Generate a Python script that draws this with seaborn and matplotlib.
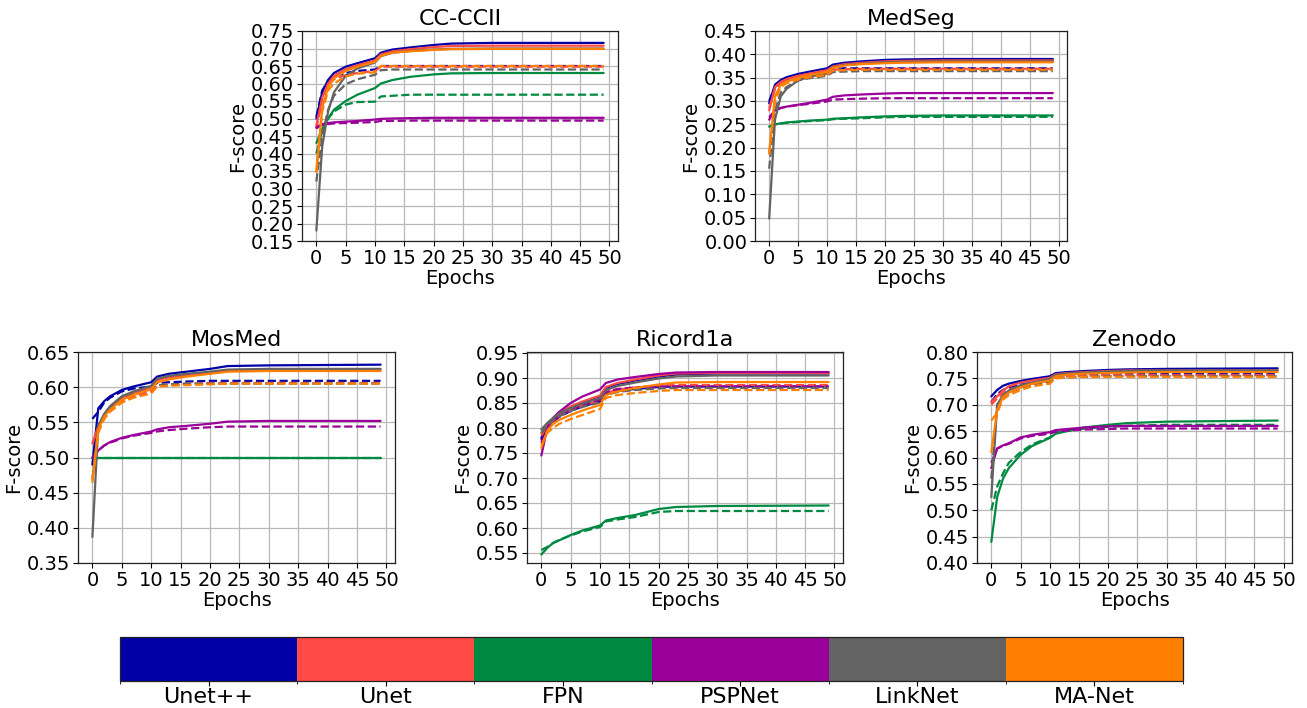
import matplotlib
matplotlib.use("Agg")
import matplotlib.pyplot as plt
import seaborn as sns
import numpy as np
from matplotlib.colors import ListedColormap, BoundaryNorm
from matplotlib.cm import ScalarMappable

# ---------------- data ----------------
EPOCHS = [0, 1, 2, 3, 5, 7, 10, 11, 13, 16, 20, 23, 30, 49]
MODELS = ["Unet++", "Unet", "FPN", "PSPNet", "LinkNet", "MA-Net"]
COLORS = ["#0000A7", "#FF4A46", "#008941", "#9A0099", "#636363", "#FF8000"]
DATASETS = ["CC-CCII", "MedSeg", "MosMed", "Ricord1a", "Zenodo"]

# CC-CCII
cc_unetpp = [0.500, 0.575, 0.610, 0.630, 0.648, 0.658, 0.672, 0.688, 0.697, 0.703, 0.710, 0.714, 0.716, 0.716]
cc_unetpp_val = [0.505, 0.580, 0.608, 0.620, 0.630, 0.636, 0.640, 0.650, 0.650, 0.650, 0.650, 0.650, 0.650, 0.650]
cc_unet = [0.480, 0.560, 0.600, 0.622, 0.641, 0.652, 0.666, 0.683, 0.692, 0.698, 0.704, 0.707, 0.708, 0.708]
cc_unet_val = [0.470, 0.555, 0.595, 0.612, 0.624, 0.630, 0.636, 0.648, 0.648, 0.648, 0.648, 0.648, 0.648, 0.648]
cc_fpn = [0.430, 0.470, 0.500, 0.525, 0.550, 0.568, 0.587, 0.600, 0.610, 0.619, 0.626, 0.629, 0.630, 0.630]
cc_fpn_val = [0.400, 0.465, 0.500, 0.520, 0.540, 0.547, 0.548, 0.563, 0.565, 0.568, 0.568, 0.568, 0.568, 0.568]
cc_psp = [0.475, 0.484, 0.487, 0.489, 0.491, 0.493, 0.497, 0.499, 0.500, 0.501, 0.502, 0.502, 0.502, 0.502]
cc_psp_val = [0.472, 0.482, 0.484, 0.486, 0.487, 0.488, 0.490, 0.493, 0.493, 0.494, 0.494, 0.494, 0.494, 0.494]
cc_link = [0.180, 0.420, 0.520, 0.575, 0.622, 0.643, 0.660, 0.678, 0.688, 0.693, 0.697, 0.699, 0.700, 0.700]
cc_link_val = [0.320, 0.450, 0.525, 0.565, 0.598, 0.612, 0.625, 0.638, 0.640, 0.640, 0.640, 0.640, 0.640, 0.640]
cc_ma = [0.350, 0.530, 0.590, 0.615, 0.636, 0.648, 0.662, 0.679, 0.688, 0.692, 0.696, 0.698, 0.699, 0.699]
cc_ma_val = [0.345, 0.520, 0.580, 0.600, 0.620, 0.628, 0.632, 0.650, 0.650, 0.650, 0.650, 0.650, 0.650, 0.650]

# MedSeg
ms_unetpp = [0.295, 0.335, 0.345, 0.351, 0.358, 0.363, 0.370, 0.378, 0.382, 0.385, 0.388, 0.389, 0.390, 0.390]
ms_unetpp_val = [0.300, 0.330, 0.340, 0.346, 0.352, 0.357, 0.362, 0.369, 0.370, 0.370, 0.370, 0.370, 0.370, 0.370]
ms_unet = [0.280, 0.330, 0.341, 0.347, 0.354, 0.359, 0.366, 0.374, 0.379, 0.382, 0.385, 0.386, 0.387, 0.387]
ms_unet_val = [0.285, 0.325, 0.336, 0.342, 0.349, 0.354, 0.358, 0.367, 0.368, 0.369, 0.369, 0.369, 0.369, 0.369]
ms_fpn = [0.245, 0.250, 0.252, 0.254, 0.256, 0.258, 0.260, 0.262, 0.263, 0.265, 0.267, 0.268, 0.269, 0.269]
ms_fpn_val = [0.245, 0.250, 0.252, 0.253, 0.255, 0.257, 0.259, 0.261, 0.262, 0.263, 0.265, 0.266, 0.266, 0.266]
ms_psp = [0.260, 0.280, 0.285, 0.288, 0.292, 0.296, 0.303, 0.309, 0.312, 0.314, 0.316, 0.317, 0.317, 0.317]
ms_psp_val = [0.265, 0.280, 0.285, 0.288, 0.291, 0.294, 0.299, 0.303, 0.304, 0.305, 0.306, 0.306, 0.306, 0.306]
ms_link = [0.048, 0.260, 0.310, 0.326, 0.344, 0.352, 0.360, 0.372, 0.377, 0.380, 0.383, 0.384, 0.385, 0.385]
ms_link_val = [0.155, 0.280, 0.318, 0.330, 0.344, 0.349, 0.354, 0.362, 0.363, 0.364, 0.364, 0.364, 0.364, 0.364]
ms_ma = [0.190, 0.310, 0.334, 0.342, 0.350, 0.356, 0.362, 0.371, 0.376, 0.379, 0.381, 0.382, 0.383, 0.383]
ms_ma_val = [0.185, 0.300, 0.330, 0.338, 0.346, 0.351, 0.356, 0.365, 0.366, 0.367, 0.367, 0.367, 0.367, 0.367]

# MosMed
mm_unetpp = [0.490, 0.570, 0.580, 0.587, 0.596, 0.601, 0.607, 0.615, 0.619, 0.622, 0.626, 0.630, 0.631, 0.632]
mm_unetpp_val = [0.555, 0.565, 0.578, 0.585, 0.594, 0.598, 0.601, 0.606, 0.607, 0.608, 0.609, 0.609, 0.609, 0.609]
mm_unet = [0.520, 0.545, 0.560, 0.570, 0.585, 0.592, 0.600, 0.610, 0.614, 0.617, 0.621, 0.623, 0.624, 0.624]
mm_unet_val = [0.520, 0.540, 0.555, 0.567, 0.580, 0.587, 0.594, 0.602, 0.604, 0.605, 0.606, 0.606, 0.606, 0.606]
mm_fpn = [0.500, 0.500, 0.500, 0.500, 0.500, 0.500, 0.500, 0.500, 0.500, 0.500, 0.500, 0.500, 0.500, 0.500]
mm_fpn_val = [0.499, 0.499, 0.499, 0.499, 0.499, 0.499, 0.499, 0.499, 0.499, 0.499, 0.499, 0.499, 0.499, 0.499]
mm_psp = [0.500, 0.510, 0.517, 0.522, 0.528, 0.532, 0.537, 0.540, 0.543, 0.545, 0.548, 0.551, 0.552, 0.552]
mm_psp_val = [0.500, 0.510, 0.517, 0.521, 0.527, 0.531, 0.535, 0.537, 0.539, 0.541, 0.543, 0.544, 0.544, 0.544]
mm_link = [0.387, 0.545, 0.562, 0.573, 0.587, 0.594, 0.602, 0.612, 0.616, 0.619, 0.622, 0.625, 0.626, 0.626]
mm_link_val = [0.470, 0.545, 0.560, 0.570, 0.583, 0.590, 0.597, 0.603, 0.604, 0.605, 0.605, 0.605, 0.605, 0.605]
mm_ma = [0.465, 0.540, 0.558, 0.568, 0.582, 0.589, 0.597, 0.607, 0.611, 0.615, 0.619, 0.622, 0.623, 0.623]
mm_ma_val = [0.468, 0.535, 0.555, 0.565, 0.578, 0.585, 0.591, 0.601, 0.602, 0.603, 0.604, 0.605, 0.605, 0.605]

# Ricord1a
rc_unetpp = [0.780, 0.806, 0.818, 0.828, 0.841, 0.851, 0.862, 0.880, 0.888, 0.895, 0.903, 0.907, 0.909, 0.909]
rc_unetpp_val = [0.775, 0.800, 0.812, 0.822, 0.834, 0.843, 0.853, 0.868, 0.874, 0.878, 0.882, 0.883, 0.883, 0.883]
rc_unet = [0.790, 0.808, 0.820, 0.830, 0.843, 0.853, 0.865, 0.882, 0.890, 0.897, 0.905, 0.909, 0.910, 0.910]
rc_unet_val = [0.785, 0.803, 0.814, 0.824, 0.836, 0.845, 0.855, 0.870, 0.877, 0.881, 0.885, 0.886, 0.886, 0.886]
rc_fpn = [0.547, 0.560, 0.570, 0.575, 0.586, 0.595, 0.605, 0.615, 0.620, 0.626, 0.638, 0.642, 0.644, 0.645]
rc_fpn_val = [0.556, 0.562, 0.570, 0.576, 0.585, 0.593, 0.602, 0.613, 0.617, 0.622, 0.632, 0.634, 0.634, 0.634]
rc_psp = [0.745, 0.800, 0.820, 0.832, 0.850, 0.863, 0.877, 0.890, 0.897, 0.902, 0.908, 0.911, 0.912, 0.912]
rc_psp_val = [0.770, 0.800, 0.813, 0.823, 0.836, 0.846, 0.857, 0.872, 0.878, 0.881, 0.883, 0.883, 0.883, 0.883]
rc_link = [0.797, 0.810, 0.820, 0.829, 0.840, 0.849, 0.860, 0.876, 0.884, 0.891, 0.899, 0.903, 0.905, 0.905]
rc_link_val = [0.790, 0.805, 0.815, 0.823, 0.834, 0.842, 0.851, 0.866, 0.872, 0.876, 0.879, 0.880, 0.880, 0.880]
rc_ma = [0.760, 0.795, 0.808, 0.816, 0.826, 0.835, 0.846, 0.866, 0.873, 0.880, 0.887, 0.891, 0.892, 0.892]
rc_ma_val = [0.765, 0.790, 0.800, 0.808, 0.818, 0.826, 0.838, 0.860, 0.866, 0.870, 0.874, 0.876, 0.876, 0.876]

# Zenodo
zn_unetpp = [0.716, 0.728, 0.736, 0.740, 0.745, 0.749, 0.754, 0.760, 0.762, 0.764, 0.766, 0.767, 0.768, 0.769]
zn_unetpp_val = [0.705, 0.720, 0.728, 0.733, 0.738, 0.742, 0.747, 0.753, 0.755, 0.756, 0.757, 0.758, 0.758, 0.758]
zn_unet = [0.705, 0.716, 0.727, 0.735, 0.742, 0.746, 0.751, 0.758, 0.760, 0.762, 0.764, 0.765, 0.765, 0.765]
zn_unet_val = [0.700, 0.712, 0.722, 0.729, 0.736, 0.740, 0.745, 0.752, 0.754, 0.755, 0.756, 0.756, 0.756, 0.756]
zn_fpn = [0.440, 0.525, 0.560, 0.580, 0.605, 0.622, 0.637, 0.645, 0.650, 0.657, 0.662, 0.665, 0.668, 0.670]
zn_fpn_val = [0.500, 0.545, 0.570, 0.590, 0.610, 0.625, 0.638, 0.647, 0.651, 0.655, 0.658, 0.660, 0.662, 0.662]
zn_psp = [0.580, 0.617, 0.623, 0.627, 0.638, 0.643, 0.648, 0.652, 0.654, 0.657, 0.659, 0.660, 0.660, 0.660]
zn_psp_val = [0.590, 0.617, 0.622, 0.626, 0.636, 0.641, 0.645, 0.649, 0.651, 0.653, 0.654, 0.655, 0.655, 0.655]
zn_link = [0.525, 0.700, 0.718, 0.727, 0.737, 0.742, 0.749, 0.757, 0.759, 0.761, 0.763, 0.764, 0.765, 0.765]
zn_link_val = [0.560, 0.700, 0.715, 0.722, 0.732, 0.738, 0.744, 0.751, 0.752, 0.753, 0.754, 0.754, 0.754, 0.754]
zn_ma = [0.610, 0.690, 0.715, 0.723, 0.733, 0.740, 0.746, 0.754, 0.757, 0.759, 0.760, 0.761, 0.762, 0.762]
zn_ma_val = [0.670, 0.685, 0.710, 0.718, 0.728, 0.735, 0.740, 0.750, 0.752, 0.753, 0.753, 0.753, 0.753, 0.753]

# y-axis ranges / ticks per panel
YLIMS = [(0.15, 0.75), (0.0, 0.45), (0.35, 0.65), (0.53, 0.952), (0.40, 0.80)]
YTICK_LO = [0.15, 0.0, 0.35, 0.55, 0.40]
YTICK_HI = [0.75, 0.45, 0.65, 0.95, 0.80]
XTICKS = [0, 5, 10, 15, 20, 25, 30, 35, 40, 45, 50]

SERIES = {
    "CC-CCII": [(cc_unetpp, cc_unetpp_val), (cc_unet, cc_unet_val), (cc_fpn, cc_fpn_val),
                (cc_psp, cc_psp_val), (cc_link, cc_link_val), (cc_ma, cc_ma_val)],
    "MedSeg": [(ms_unetpp, ms_unetpp_val), (ms_unet, ms_unet_val), (ms_fpn, ms_fpn_val),
               (ms_psp, ms_psp_val), (ms_link, ms_link_val), (ms_ma, ms_ma_val)],
    "MosMed": [(mm_unetpp, mm_unetpp_val), (mm_unet, mm_unet_val), (mm_fpn, mm_fpn_val),
               (mm_psp, mm_psp_val), (mm_link, mm_link_val), (mm_ma, mm_ma_val)],
    "Ricord1a": [(rc_unetpp, rc_unetpp_val), (rc_unet, rc_unet_val), (rc_fpn, rc_fpn_val),
                 (rc_psp, rc_psp_val), (rc_link, rc_link_val), (rc_ma, rc_ma_val)],
    "Zenodo": [(zn_unetpp, zn_unetpp_val), (zn_unet, zn_unet_val), (zn_fpn, zn_fpn_val),
               (zn_psp, zn_psp_val), (zn_link, zn_link_val), (zn_ma, zn_ma_val)],
}

# ---------------- style ----------------
sns.set_style("ticks", {"axes.grid": True, "grid.color": "#b8b8b8",
                        "axes.edgecolor": "#222222", "text.color": "black",
                        "xtick.color": "black", "ytick.color": "black",
                        "axes.labelcolor": "black"})
plt.rcParams["font.family"] = ["DejaVu Sans"]

W, H = 1307, 708
fig = plt.figure(figsize=(W / 100, H / 100), dpi=100)


def px_axes(left, top, right, bottom):
    return fig.add_axes([left / W, 1 - bottom / H, (right - left) / W, (bottom - top) / H])


BOXES = [(302, 31, 618, 241), (755, 31, 1067, 241),
         (78, 352, 395, 563), (527, 352, 843, 563), (977, 352, 1292, 563)]

for i, name in enumerate(DATASETS):
    ax = px_axes(*BOXES[i])
    for (tr, va), col in zip(SERIES[name], COLORS):
        sns.lineplot(x=EPOCHS, y=tr, ax=ax, color=col, lw=1.6)
        sns.lineplot(x=EPOCHS, y=va, ax=ax, color=col, lw=1.6, linestyle="--")
    ax.set_xlim(-2.45, 51.45)
    ax.set_ylim(*YLIMS[i])
    ax.set_xticks(XTICKS)
    yt = np.round(np.arange(YTICK_LO[i], YTICK_HI[i] + 0.001, 0.05), 2)
    ax.set_yticks(yt)
    ax.set_yticklabels([f"{v:.2f}" for v in yt])
    ax.tick_params(labelsize=14, length=3.5, width=0.8, pad=2)
    ax.grid(True, color="#b8b8b8", lw=0.9)
    ax.set_title(name, fontsize=16, pad=4)
    ax.set_xlabel("Epochs", fontsize=14, labelpad=1)
    ax.set_ylabel("F-score", fontsize=14, labelpad=3)
    for s in ax.spines.values():
        s.set_linewidth(0.9)

# colour legend bar
cax = px_axes(120, 637, 1183, 681)
cmap = ListedColormap(COLORS)
norm = BoundaryNorm(np.arange(len(MODELS) + 1), cmap.N)
cb = fig.colorbar(ScalarMappable(norm=norm, cmap=cmap), cax=cax, orientation="horizontal")
cb.set_ticks(np.arange(len(MODELS)) + 0.5)
cb.set_ticklabels(MODELS)
cb.ax.tick_params(labelsize=16, length=3.5, pad=1)
cb.outline.set_linewidth(0.9)

fig.savefig("out.png", dpi=100)
